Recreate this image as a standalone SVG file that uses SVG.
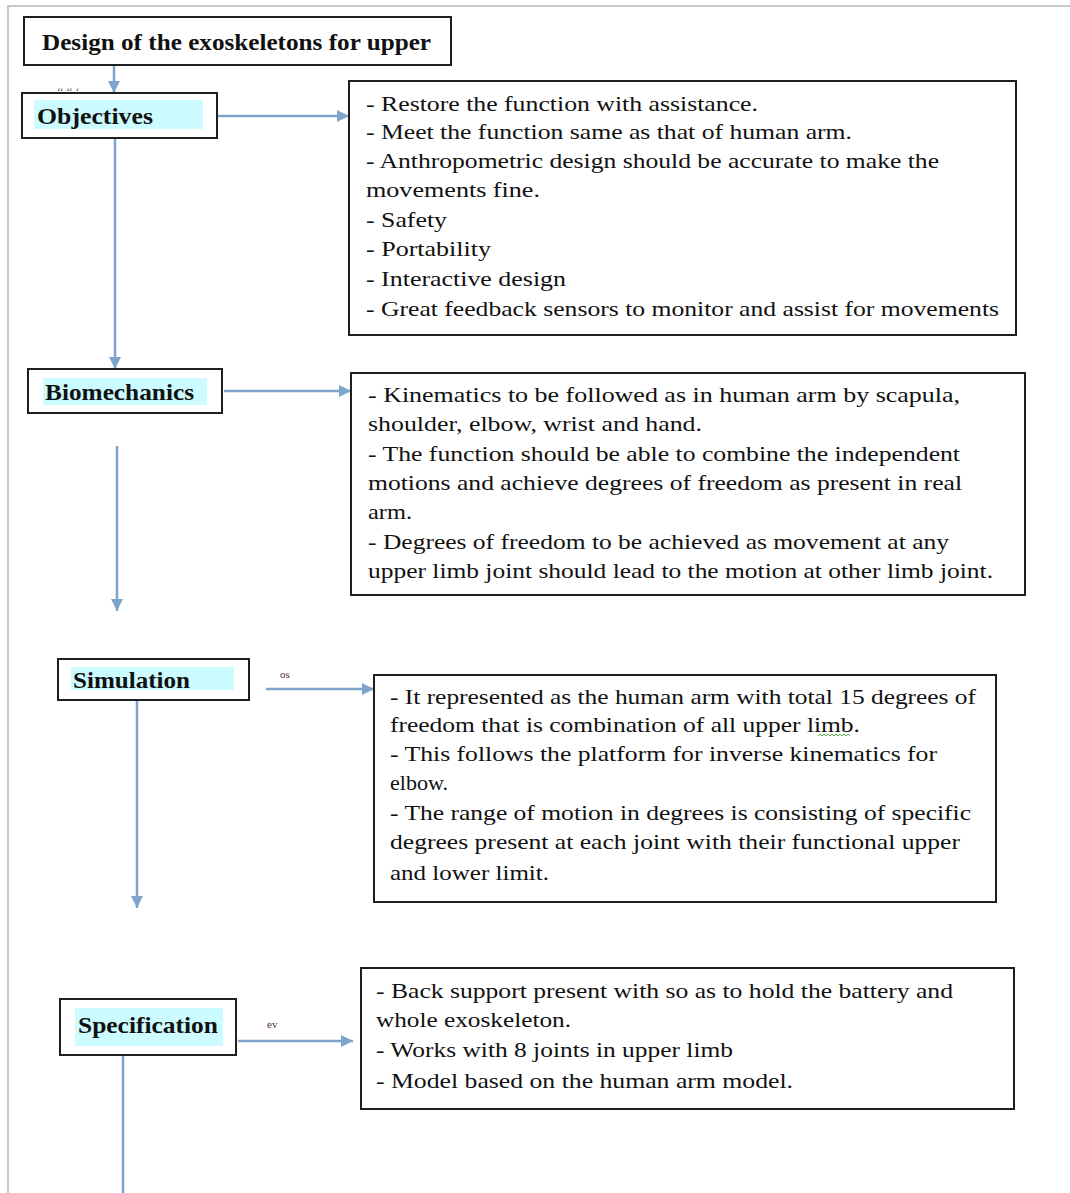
<svg xmlns="http://www.w3.org/2000/svg" width="1070" height="1193" viewBox="0 0 1070 1193">
<style>
.box{fill:#fff;stroke:#1e1e1e;stroke-width:2}
.hl{fill:#ccfcff}
.lbl{font-family:"Liberation Serif",serif;font-weight:bold;font-size:23px;fill:#111}
.txt{font-family:"Liberation Serif",serif;font-size:21.5px;fill:#111}
.tiny{font-family:"Liberation Serif",serif;font-size:11px;fill:#5a2a40}
.con{fill:none;stroke:#7ea4cb;stroke-width:2.5}
</style>
<defs>
<marker id="ah" viewBox="0 0 10 10" refX="10" refY="5" markerWidth="12" markerHeight="12" markerUnits="userSpaceOnUse" orient="auto">
<path d="M0,0 L10,5 L0,10 z" fill="#7ea4cb"/>
</marker>
</defs>
<rect width="1070" height="1193" fill="#fff"/>
<g id="page-border">
<path d="M8,1193 V6 H1070" fill="none" stroke="#c8c8c8" stroke-width="2"/>
</g>
<g id="connectors">
<path class="con" d="M114,66 V93" marker-end="url(#ah)"/>
<path class="con" d="M216,116 H349" marker-end="url(#ah)"/>
<path class="con" d="M115,138 V369" marker-end="url(#ah)"/>
<path class="con" d="M224,391 H351" marker-end="url(#ah)"/>
<path class="con" d="M117,446 V611" marker-end="url(#ah)"/>
<path class="con" d="M266,689 H374" marker-end="url(#ah)"/>
<path class="con" d="M137,700 V908" marker-end="url(#ah)"/>
<path class="con" d="M238,1041 H353" marker-end="url(#ah)"/>
<path class="con" d="M123,1055 V1193"/>
<text class="tiny" x="57" y="95">‘‘ ‘‘ ‘</text>
<text class="tiny" x="280" y="678">os</text>
<text class="tiny" x="267" y="1028">ev</text>
</g>
<g id="title">
<rect class="box" x="24" y="17" width="427" height="48"/>
<text class="lbl" x="42" y="50" textLength="389" lengthAdjust="spacingAndGlyphs">Design of the exoskeletons for upper</text>
</g>
<g id="objectives">
<rect class="box" x="22" y="93" width="195" height="45"/>
<rect class="hl" x="34" y="100" width="169" height="29"/>
<text class="lbl" x="37" y="124" textLength="116" lengthAdjust="spacingAndGlyphs">Objectives</text>
</g>
<g id="objectives-detail">
<rect class="box" x="349" y="81" width="667" height="254"/>
<text class="txt" x="366" y="111" textLength="392" lengthAdjust="spacingAndGlyphs">- Restore the function with assistance.</text>
<text class="txt" x="366" y="139" textLength="486" lengthAdjust="spacingAndGlyphs">- Meet the function same as that of human arm.</text>
<text class="txt" x="366" y="168" textLength="573" lengthAdjust="spacingAndGlyphs">- Anthropometric design should be accurate to make the</text>
<text class="txt" x="366" y="197" textLength="174" lengthAdjust="spacingAndGlyphs">movements fine.</text>
<text class="txt" x="366" y="227" textLength="81" lengthAdjust="spacingAndGlyphs">- Safety</text>
<text class="txt" x="366" y="256" textLength="125" lengthAdjust="spacingAndGlyphs">- Portability</text>
<text class="txt" x="366" y="286" textLength="200" lengthAdjust="spacingAndGlyphs">- Interactive design</text>
<text class="txt" x="366" y="316" textLength="633" lengthAdjust="spacingAndGlyphs">- Great feedback sensors to monitor and assist for movements</text>
</g>
<g id="biomechanics">
<rect class="box" x="28" y="369" width="194" height="44"/>
<rect class="hl" x="43" y="378" width="164" height="27"/>
<text class="lbl" x="45" y="400" textLength="149" lengthAdjust="spacingAndGlyphs">Biomechanics</text>
</g>
<g id="biomechanics-detail">
<rect class="box" x="351" y="373" width="674" height="222"/>
<text class="txt" x="368" y="402" textLength="592" lengthAdjust="spacingAndGlyphs">- Kinematics to be followed as in human arm by scapula,</text>
<text class="txt" x="368" y="431" textLength="334" lengthAdjust="spacingAndGlyphs">shoulder, elbow, wrist and hand.</text>
<text class="txt" x="368" y="461" textLength="592" lengthAdjust="spacingAndGlyphs">- The function should be able to combine the independent</text>
<text class="txt" x="368" y="490" textLength="594" lengthAdjust="spacingAndGlyphs">motions and achieve degrees of freedom as present in real</text>
<text class="txt" x="368" y="519" textLength="44" lengthAdjust="spacingAndGlyphs">arm.</text>
<text class="txt" x="368" y="549" textLength="581" lengthAdjust="spacingAndGlyphs">- Degrees of freedom to be achieved as movement at any</text>
<text class="txt" x="368" y="578" textLength="625" lengthAdjust="spacingAndGlyphs">upper limb joint should lead to the motion at other limb joint.</text>
</g>
<g id="simulation">
<rect class="box" x="58" y="659" width="191" height="41"/>
<rect class="hl" x="71" y="667" width="163" height="23"/>
<text class="lbl" x="73" y="688" textLength="117" lengthAdjust="spacingAndGlyphs">Simulation</text>
</g>
<g id="simulation-detail">
<rect class="box" x="374" y="675" width="622" height="227"/>
<text class="txt" x="390" y="704" textLength="586" lengthAdjust="spacingAndGlyphs">- It represented as the human arm with total 15 degrees of</text>
<text class="txt" x="390" y="732" textLength="470" lengthAdjust="spacingAndGlyphs">freedom that is combination of all upper limb.</text>
<path d="M818,736 l2,-2 l2,2 l2,-2 l2,2 l2,-2 l2,2 l2,-2 l2,2 l2,-2 l2,2 l2,-2 l2,2 l2,-2 l2,2 l2,-2 l2,2" fill="none" stroke="#5ab04a" stroke-width="1"/>
<text class="txt" x="390" y="761" textLength="547" lengthAdjust="spacingAndGlyphs">- This follows the platform for inverse kinematics for</text>
<text class="txt" x="390" y="790" textLength="58" lengthAdjust="spacingAndGlyphs">elbow.</text>
<text class="txt" x="390" y="820" textLength="581" lengthAdjust="spacingAndGlyphs">- The range of motion in degrees is consisting of specific</text>
<text class="txt" x="390" y="849" textLength="570" lengthAdjust="spacingAndGlyphs">degrees present at each joint with their functional upper</text>
<text class="txt" x="390" y="880" textLength="159" lengthAdjust="spacingAndGlyphs">and lower limit.</text>
</g>
<g id="specification">
<rect class="box" x="60" y="999" width="176" height="56"/>
<rect class="hl" x="75" y="1008" width="148" height="38"/>
<text class="lbl" x="78" y="1033" textLength="140" lengthAdjust="spacingAndGlyphs">Specification</text>
</g>
<g id="specification-detail">
<rect class="box" x="361" y="968" width="653" height="141"/>
<text class="txt" x="376" y="998" textLength="577" lengthAdjust="spacingAndGlyphs">- Back support present with so as to hold the battery and</text>
<text class="txt" x="376" y="1027" textLength="195" lengthAdjust="spacingAndGlyphs">whole exoskeleton.</text>
<text class="txt" x="376" y="1057" textLength="357" lengthAdjust="spacingAndGlyphs">- Works with 8 joints in upper limb</text>
<text class="txt" x="376" y="1088" textLength="417" lengthAdjust="spacingAndGlyphs">- Model based on the human arm model.</text>
</g>
</svg>
